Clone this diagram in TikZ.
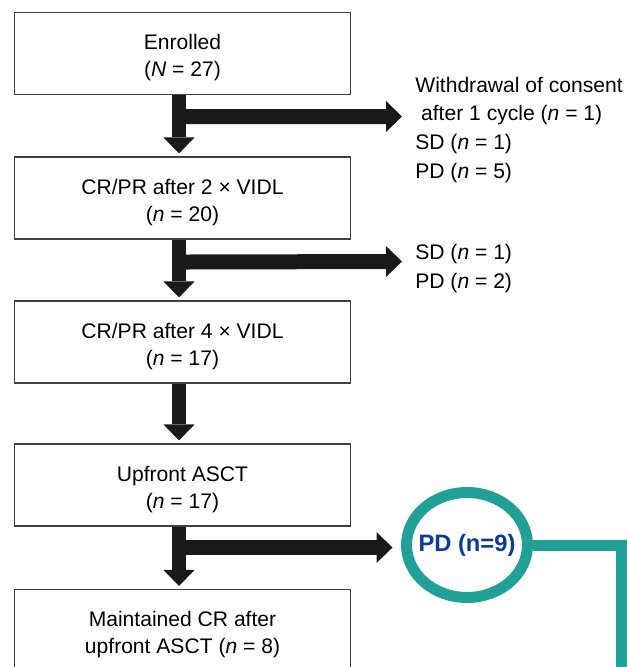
\documentclass[tikz,border=0pt]{standalone}
\usepackage{fontspec}
\setmainfont{Liberation Sans}
\usetikzlibrary{arrows.meta, calc, shapes.geometric}
\definecolor{ringteal}{RGB}{32,160,150}
\definecolor{pdblue}{RGB}{12,58,150}
\tikzset{
  stage/.style = {draw=black!75, line width=0.6pt, fill=white, align=center,
                  minimum width=6.72cm, minimum height=1.64cm, inner sep=2pt,
                  text height=29.2pt,
                  font=\fontsize{12}{15.4}\selectfont},
  exits/.style = {align=left, anchor=base west, inner sep=0pt,
                  font=\fontsize{12}{16.3}\selectfont},
  flow/.style  = {line width=0.3cm, draw=black!90,
                  -{Triangle[width=0.62cm, length=0.32cm, line width=0pt]}},
  ring/.style  = {ellipse, draw=ringteal, line width=0.22cm, fill=white,
                  minimum width=2.42cm, minimum height=2.1cm,
                  inner xsep=-0.12cm, inner ysep=0pt,
                  font=\fontsize{13.5}{16}\selectfont\bfseries, text=pdblue},
  link/.style  = {draw=ringteal, line width=0.22cm}
}

\begin{document}
\begin{tikzpicture}[x=0.02cm, y=-0.02cm]
\useasboundingbox (0,0) rectangle (629,667);
\clip (0,0) rectangle (629,667);
% Stages
\node[stage] (enrolled) at (182.5,53.5) {Enrolled\\(\textit{N} = 27)};
\node[stage] (crpr2) at (182.5,198) {CR/PR after 2 × VIDL\\(\textit{n} = 20)};
\node[stage] (crpr4) at (182.5,342) {CR/PR after 4 × VIDL\\(\textit{n} = 17)};
\node[stage] (asct) at (182.5,485) {Upfront ASCT\\(\textit{n} = 17)};
\node[stage] (maint) at (182.5,630.5) {Maintained CR after\\upfront ASCT (\textit{n} = 8)};
% Branch points under each stage
\coordinate (b1) at ($(enrolled.south)+(-3.5,21.5)$);
\coordinate (b2) at ($(crpr2.south)+(-3.5,22.5)$);
\coordinate (b3) at ($(asct.south)+(-3.5,21)$);
% Main flow
\draw[flow, shorten >=0.06cm] (enrolled.south -| b1) -- (crpr2.north -| b1);
\draw[flow, shorten >=0.06cm] (crpr2.south -| b1) -- (crpr4.north -| b1);
\draw[flow, shorten >=0.06cm] (crpr4.south -| b1) -- (asct.north -| b1);
\draw[flow, shorten >=0.06cm] (asct.south -| b1) -- (maint.north -| b1);
% Exits
\coordinate (e1) at (402,116.5);
\coordinate (e2) at (402,261.5);
\draw[flow] (b1) -- (e1);
\draw[flow] (b2) -- (e2);
\node[exits] (out1) at (415,178) {Withdrawal of consent\\\hspace*{3.3pt}after 1 cycle (\textit{n} = 1)\\SD (\textit{n} = 1)\\PD (\textit{n} = 5)};
\node[exits] (out2) at (415,288) {SD (\textit{n} = 1)\\PD (\textit{n} = 2)};
% Progression after ASCT
\node[ring] (pd) at (467,545) {PD (n=9)};
\draw[flow, shorten >=0.17cm] (b3) -- (b3 -| pd.west);
\coordinate (down) at (621.5,690);
\draw[link] (pd.east) -| (down);
\end{tikzpicture}
\end{document}
